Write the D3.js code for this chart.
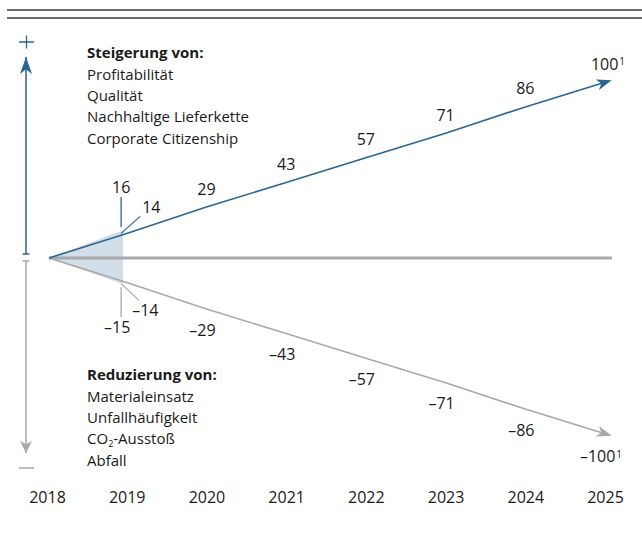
<!DOCTYPE html>
<html>
<head>
<meta charset="utf-8">
<script src="https://cdn.jsdelivr.net/npm/d3@7"></script>
<style>
    body { margin: 0; background: #fff; }
    svg text { font-family: "Open Sans", Lato, sans-serif; fill: #1a1a1a; }
</style>
</head>
<body>
<div id="chart"></div>
<script>

// data
var years = [2018, 2019, 2020, 2021, 2022, 2023, 2024, 2025];
var increaseTargets = [0, 14, 29, 43, 57, 71, 86, 100];
var reductionTargets = [0, -14, -29, -43, -57, -71, -86, -100];
var statusDate = 2018.93;
var statusIncrease = 16;
var statusReduction = -15;
var increaseTitle = 'Steigerung von:';
var increaseItems = ['Profitabilität', 'Qualität', 'Nachhaltige Lieferkette', 'Corporate Citizenship'];
var reductionTitle = 'Reduzierung von:';
var reductionItems = ['Materialeinsatz', 'Unfallhäufigkeit', 'CO2-Ausstoß', 'Abfall'];
var footnote = '1';


class TargetChart {


    constructor() {

        this._width = 642;
        this._height = 533;
        this._blue = '#2b6594';
        this._gray = '#a9a9a9';
        this._shade = '#d3dfe8';

        this._x = d3.scaleLinear()
            .domain([years[0], years[years.length - 1]])
            .range([47, 605]);

        this._y = d3.scaleLinear()
            .domain([-100, 100])
            .range([433.7, 82.3]);
    }


    renderTo(selector) {

        var x = this._x;
        var y = this._y;

        this._svg = d3.select(selector)
            .append('svg')
            .attr('width', this._width)
            .attr('height', this._height);

        var defs = this._svg.append('defs');
        this._addArrow(defs, 'arrow-blue', this._blue, 15, 5.5, 7);
        this._addArrow(defs, 'arrow-gray', this._gray, 15, 5.5, 7);
        this._addArrow(defs, 'axis-blue', this._blue, 17, 6, 0);
        this._addArrow(defs, 'axis-gray', this._gray, 12, 6, 0);

        // double rule on top
        this._svg.selectAll('line.rule')
            .data([10, 18])
            .enter()
            .append('line')
            .attr('class', 'rule')
            .attr('x1', 7)
            .attr('x2', this._width)
            .attr('y1', d => d)
            .attr('y2', d => d)
            .style('stroke', '#3a3a3a')
            .style('stroke-width', 1.4);

        this._drawSideAxis();

        // shaded status area
        var statusRows = [
            { year: years[0], hi: 0, lo: 0 },
            { year: statusDate, hi: statusIncrease, lo: statusReduction }
        ];
        this._svg.append('path')
            .datum(statusRows)
            .attr('d', d3.area()
                .x(d => x(d.year) + 2)
                .y0(d => y(d.lo))
                .y1(d => y(d.hi)))
            .style('fill', this._shade);

        // zero line
        this._svg.append('line')
            .attr('x1', x(years[0]) + 2)
            .attr('x2', x(years[years.length - 1]) + 7)
            .attr('y1', y(0))
            .attr('y2', y(0))
            .style('stroke', this._gray)
            .style('stroke-width', 3);

        var line = d3.line()
            .x(d => x(d[0]) + (d[0] == years[0] ? 2 : 0))
            .y(d => y(d[1]));

        this._svg.append('path')
            .datum(d3.zip(years, reductionTargets))
            .attr('d', line)
            .attr('marker-end', 'url(#arrow-gray)')
            .style('fill', 'none')
            .style('stroke', this._gray)
            .style('stroke-width', 1.6);

        this._svg.append('path')
            .datum(d3.zip(years, increaseTargets))
            .attr('d', line)
            .attr('marker-end', 'url(#arrow-blue)')
            .style('fill', 'none')
            .style('stroke', this._blue)
            .style('stroke-width', 1.6);

        this._drawStatus();
        this._drawValueLabels();
        this._drawTextBlocks();

        // year labels
        var axis = this._svg.append('g')
            .attr('transform', 'translate(0, 491)')
            .call(d3.axisBottom(x).tickValues(years).tickFormat(d3.format('d')).tickSize(0));
        axis.select('.domain').remove();
        axis.selectAll('text')
            .attr('dy', '0.35em')
            .attr('y', 6)
            .style('font-family', '"Open Sans", sans-serif')
            .style('font-size', '16px')
            .style('fill', '#1a1a1a');

        return this;
    }


    _addArrow(defs, id, color, length, half, reach) {

        defs.append('marker')
            .attr('id', id)
            .attr('markerUnits', 'userSpaceOnUse')
            .attr('markerWidth', 40)
            .attr('markerHeight', 40)
            .attr('refX', 0)
            .attr('refY', 0)
            .attr('orient', 'auto')
            .style('overflow', 'visible')
            .append('path')
            .attr('d', 'M' + reach + ',0L' + (reach - length) + ',' + (-half) +
                'L' + (reach - length * 0.72) + ',0L' + (reach - length) + ',' + half + 'Z')
            .style('fill', color);
    }


    _drawSideAxis() {

        var ax = 26;
        var top = this._svg.append('g');
        var bottom = this._svg.append('g');

        top.append('line')
            .attr('x1', ax).attr('x2', ax)
            .attr('y1', 254).attr('y2', 57)
            .attr('marker-end', 'url(#axis-blue)')
            .style('stroke', this._blue)
            .style('stroke-width', 1.5);
        top.append('line')
            .attr('x1', ax - 3.5).attr('x2', ax + 3.5)
            .attr('y1', 254).attr('y2', 254)
            .style('stroke', this._blue)
            .style('stroke-width', 1.5);
        top.append('path')
            .attr('d', 'M19,42H34M26.5,35.5V48.5')
            .style('stroke', this._blue)
            .style('stroke-width', 1.3);

        bottom.append('line')
            .attr('x1', ax).attr('x2', ax)
            .attr('y1', 261).attr('y2', 453)
            .attr('marker-end', 'url(#axis-gray)')
            .style('stroke', this._gray)
            .style('stroke-width', 1.5);
        bottom.append('line')
            .attr('x1', ax - 3.5).attr('x2', ax + 3.5)
            .attr('y1', 261).attr('y2', 261)
            .style('stroke', this._gray)
            .style('stroke-width', 1.5);
        bottom.append('line')
            .attr('x1', 19).attr('x2', 34)
            .attr('y1', 468).attr('y2', 468)
            .style('stroke', this._gray)
            .style('stroke-width', 1.5);
    }


    _drawStatus() {

        var x = this._x;
        var y = this._y;
        var sx = x(statusDate);

        // status marks
        this._svg.append('line')
            .attr('x1', sx).attr('x2', sx)
            .attr('y1', y(statusIncrease) - 3).attr('y2', 197)
            .style('stroke', this._blue)
            .style('stroke-width', 1.3);
        this._svg.append('line')
            .attr('x1', sx).attr('x2', sx)
            .attr('y1', y(statusReduction) + 3).attr('y2', 317)
            .style('stroke', this._gray)
            .style('stroke-width', 1.3);

        this._label(sx, y(statusIncrease) - 42, statusIncrease, 'middle');
        this._label(sx - 4, y(statusReduction) + 43, statusReduction, 'middle');

        // leaders for the target values at the status mark
        this._svg.append('line')
            .attr('x1', sx).attr('x2', sx + 19)
            .attr('y1', y(increaseTargets[1])).attr('y2', y(increaseTargets[1]) - 17)
            .style('stroke', this._blue)
            .style('stroke-width', 1.2);
        this._svg.append('line')
            .attr('x1', sx).attr('x2', sx + 18)
            .attr('y1', y(reductionTargets[1]) + 1).attr('y2', y(reductionTargets[1]) + 18)
            .style('stroke', this._gray)
            .style('stroke-width', 1.2);

        this._label(sx + 21, y(increaseTargets[1]) - 26, increaseTargets[1], 'start');
        this._label(sx + 11, y(reductionTargets[1]) + 28, reductionTargets[1], 'start');
    }


    _drawValueLabels() {

        var x = this._x;
        var y = this._y;

        for (var i = 2; i < years.length; i++) {
            var last = i == years.length - 1;
            var up = this._label(x(years[i]) + (last ? 3 : 0), y(increaseTargets[i]) - 18, increaseTargets[i], 'middle');
            var down = this._label(x(years[i]) - 4, y(reductionTargets[i]) + (last ? 23 : 21), reductionTargets[i], 'middle');
            if (last) {
                [up, down].forEach(function(t) {
                    t.append('tspan')
                        .attr('dy', '-0.45em')
                        .attr('dx', 1)
                        .style('font-size', '10px')
                        .text(footnote);
                });
            }
        }
    }


    _label(px, py, value, anchor) {

        return this._svg.append('text')
            .attr('x', px)
            .attr('y', py)
            .attr('dy', '0.35em')
            .attr('text-anchor', anchor)
            .style('font-size', '16px')
            .text(value < 0 ? '\u2013' + Math.abs(value) : value);
    }


    _drawTextBlocks() {

        this._textBlock(87, 53, increaseTitle, increaseItems);
        this._textBlock(87, 375, reductionTitle, reductionItems);
    }


    _textBlock(px, py, title, items) {

        var step = 21.4;
        var g = this._svg.append('g');

        g.append('text')
            .attr('x', px)
            .attr('y', py)
            .attr('dy', '0.35em')
            .style('font-size', '15px')
            .style('font-weight', 'bold')
            .text(title);

        g.selectAll('text.item')
            .data(items)
            .enter()
            .append('text')
            .attr('class', 'item')
            .attr('x', px)
            .attr('y', (d, i) => py + step * (i + 1))
            .attr('dy', '0.35em')
            .style('font-size', '15px')
            .each(function(d) {
                var t = d3.select(this);
                var m = d.match(/^(CO)2(.*)$/);
                if (m) {
                    t.append('tspan').text(m[1]);
                    t.append('tspan').attr('dy', 2.5).style('font-size', '9px').text('2');
                    t.append('tspan').attr('dy', -2.5).text(m[2]);
                } else {
                    t.text(d);
                }
            });
    }
}


new TargetChart().renderTo('#chart');

</script>
</body>
</html>
